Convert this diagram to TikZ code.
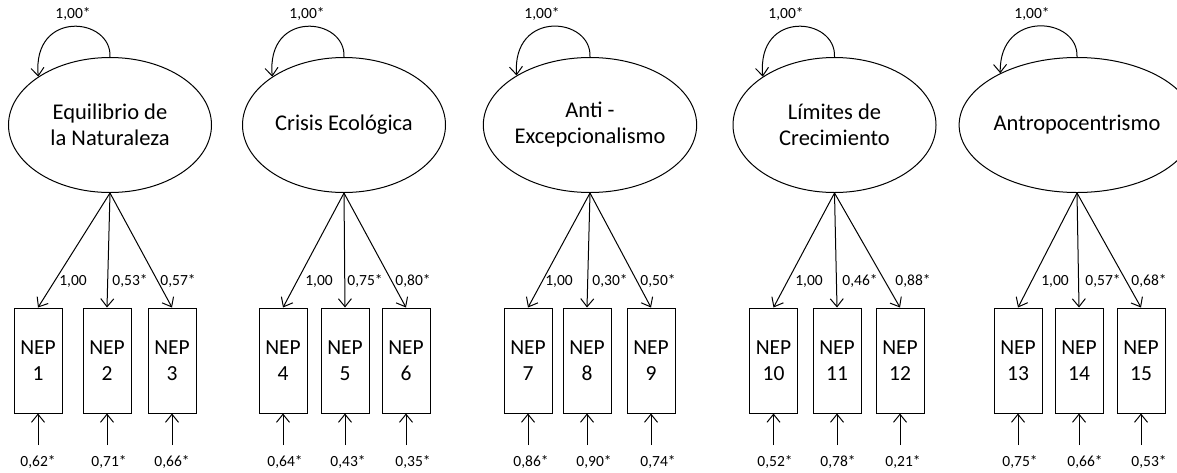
\documentclass[tikz,border=0pt]{standalone}
\usepackage{fontspec}
\setmainfont{Carlito}
\usetikzlibrary{arrows.meta,shapes.geometric,calc}
\begin{document}
\begin{tikzpicture}[x=1pt,y=-1pt,
  line width=1pt,
  arr/.style={-{Straight Barb[length=8pt,width=13pt,line width=1pt]}},
  latent/.style={draw,ellipse,minimum width=203pt,minimum height=135pt,inner sep=0pt,
    align=center,font=\fontsize{22.5}{26}\selectfont},
  obs/.style={draw,rectangle,minimum width=48pt,minimum height=105pt,inner sep=0pt,
    align=center,font=\fontsize{21.5}{26.5}\selectfont},
  lbl/.style={inner sep=0pt,font=\fontsize{15.5}{18}\selectfont}]
\useasboundingbox (0,0) rectangle (1177,472);

% latent factors
\node[latent] (f1) at (110,125) {Equilibrio de\\la Naturaleza};
\node[latent] (f2) at (344,125) {Crisis Ecológica};
\node[latent] (f3) at (590,125) {Anti -\\Excepcionalismo};
\node[latent] (f4) at (834.5,125) {Límites de\\Crecimiento};
\node[latent] (f5) at (1077,125) {Antropocentrismo};

% factor variances
\foreach \g in {1,...,5}{
  \draw[arr] (f\g.north) .. controls ($(f\g.north)+(2,-40)$) and ($(f\g.north)+(-78,-48)$) .. (f\g.146);
}
\node[lbl] (v1) at (73,14) {1,00*};
\node[lbl] (v2) at (307,14) {1,00*};
\node[lbl] (v3) at (542,14) {1,00*};
\node[lbl] (v4) at (786,14) {1,00*};
\node[lbl] (v5) at (1032,14) {1,00*};

% indicators, loadings and residuals
\foreach \i/\g/\bx/\lx/\lab/\ux/\err in {
  1/1/38/73/{1,00}/38/{0,62*},
  2/1/107/130/{0,53*}/109/{0,71*},
  3/1/172/178/{0,57*}/172/{0,66*},
  4/2/283/319/{1,00}/285/{0,64*},
  5/2/345/365/{0,75*}/348/{0,43*},
  6/2/406/413/{0,80*}/413/{0,35*},
  7/3/528/559/{1,00}/531/{0,86*},
  8/3/587/610/{0,30*}/594/{0,90*},
  9/3/651/658/{0,50*}/658/{0,74*},
  10/4/773.5/809/{1,00}/775/{0,52*},
  11/4/837/860/{0,46*}/838/{0,78*},
  12/4/900/913/{0,88*}/903/{0,21*},
  13/5/1018/1055/{1,00}/1020/{0,75*},
  14/5/1079/1103/{0,57*}/1085/{0,66*},
  15/5/1141/1149/{0,68*}/1149/{0,53*}}{
  \node[obs] (n\i) at (\bx,360.5) {NEP\\\i};
  \draw[arr] (f\g.south) -- (n\i.north);
  \node[lbl] (l\i) at (\lx,281) {\lab};
  \coordinate (u\i) at (\bx,445);
  \draw[arr] (u\i) -- (n\i.south);
  \node[lbl] (r\i) at (\ux,462) {\err};
}
\end{tikzpicture}
\end{document}
